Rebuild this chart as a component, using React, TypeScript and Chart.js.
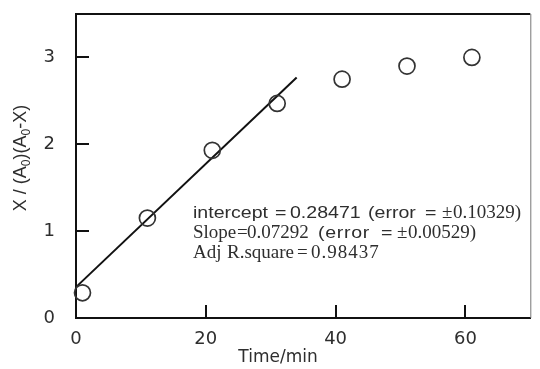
import { useEffect, useRef } from "react";
import { Chart, registerables } from "chart.js";

Chart.register(...registerables);

// Data
const timeMin = [1, 11, 21, 31, 41, 51, 61];
const ratioValues = [0.29, 1.15, 1.93, 2.47, 2.75, 2.9, 3.0];
const fitTime = [0.2, 34];
const fitValues = [0.37, 2.77];
const xTicks = [0, 20, 40, 60];
const yTicks = [0, 1, 2, 3];

const xTitle = "Time/min";
// Y title parts: [text, isSubscript]
const yTitleParts: [string, boolean][] = [
  ["X / (A", false],
  ["0", true],
  [")(A", false],
  ["0", true],
  ["-X)", false],
];
// Annotation pieces: [text, font kind, x, letter spacing]
const fitLine1: [string, string, number, number][] = [
  ["intercept", "sans", 193, 0],
  ["=", "sans", 275, 0],
  ["0.28471", "sans", 290, 0],
  ["(error", "sans", 368, 0],
  ["=", "sans", 425, 0],
  ["\u00b1", "serif", 442, 0],
  ["0.10329)", "serif", 453, 0],
];
const fitLine2: [string, string, number, number][] = [
  ["Slope", "serif", 193, 0],
  ["=", "serif", 237, 0],
  ["0.07292", "serif", 247, 0],
  ["(error", "sans", 318, 0.6],
  ["=", "sans", 381, 0],
  ["\u00b1", "serif", 397, 0],
  ["0.00529)", "serif", 408, 0],
];
const fitLine3: [string, string, number, number][] = [
  ["Adj", "serif", 193, 0],
  ["R.square", "serif", 227, 0],
  ["=", "serif", 297, 0],
  ["0.98437", "serif", 311, 1],
];

const TEXT = "#2e2e2e";
const AXIS = "#111";

const decorPlugin = {
  id: "decor",
  beforeDraw(chart: any) {
    const ctx = chart.ctx;
    ctx.save();
    ctx.fillStyle = "#fff";
    ctx.fillRect(0, 0, chart.width, chart.height);
    ctx.restore();
  },
  afterDraw(chart: any) {
    const ctx = chart.ctx;
    const { left, right, top, bottom } = chart.chartArea;
    const xs = chart.scales.x;
    const ys = chart.scales.y;
    ctx.save();
    // frame top / right
    ctx.strokeStyle = AXIS;
    ctx.lineWidth = 2;
    ctx.beginPath();
    ctx.moveTo(left - 1, top);
    ctx.lineTo(right, top);
    ctx.stroke();
    ctx.strokeStyle = "#777";
    ctx.lineWidth = 1;
    ctx.beginPath();
    ctx.moveTo(right + 0.5, top);
    ctx.lineTo(right + 0.5, bottom);
    ctx.stroke();
    // inward ticks
    ctx.strokeStyle = AXIS;
    ctx.lineWidth = 2;
    const tl = 13;
    xTicks.forEach((v) => {
      if (v === 0) return;
      const px = Math.round(xs.getPixelForValue(v));
      ctx.beginPath();
      ctx.moveTo(px, bottom);
      ctx.lineTo(px, bottom - tl);
      ctx.stroke();
    });
    yTicks.forEach((v) => {
      if (v === 0) return;
      const py = Math.round(ys.getPixelForValue(v));
      ctx.beginPath();
      ctx.moveTo(left, py);
      ctx.lineTo(left + tl, py);
      ctx.stroke();
    });
    // x title
    ctx.fillStyle = TEXT;
    ctx.font = "17px 'DejaVu Sans'";
    ctx.textAlign = "center";
    ctx.textBaseline = "middle";
    ctx.fillText(xTitle, 278, 358);
    // y title with subscripts
    const mainFont = "18px 'Liberation Sans'";
    const subFont = "12px 'Liberation Sans'";
    let total = 0;
    yTitleParts.forEach(([t, sub]) => {
      ctx.font = sub ? subFont : mainFont;
      total += ctx.measureText(t).width;
    });
    ctx.translate(20, (top + bottom) / 2 - 8);
    ctx.rotate(-Math.PI / 2);
    ctx.textAlign = "left";
    ctx.textBaseline = "alphabetic";
    let cx = -total / 2;
    yTitleParts.forEach(([t, sub]) => {
      ctx.font = sub ? subFont : mainFont;
      ctx.fillText(t, cx, sub ? 10 : 6);
      cx += ctx.measureText(t).width;
    });
    ctx.restore();
    // annotation
    const drawLine = (segs: [string, string, number, number][], y: number) => {
      segs.forEach(([t, kind, x, ls]) => {
        ctx.save();
        ctx.fillStyle = TEXT;
        ctx.textAlign = "left";
        ctx.textBaseline = "alphabetic";
        (ctx as any).letterSpacing = ls + "px";
        ctx.translate(x, y);
        if (kind === "sans") {
          ctx.font = "17px 'Liberation Sans'";
          ctx.scale(1.15, 1);
        } else {
          ctx.font = "19px 'Liberation Serif'";
        }
        ctx.fillText(t, 0, 0);
        ctx.restore();
      });
    };
    drawLine(fitLine1, 218);
    drawLine(fitLine2, 238);
    drawLine(fitLine3, 258);
  },
};

export default function App() {
  const ref = useRef<HTMLCanvasElement>(null);
  useEffect(() => {
    document.body.style.margin = "0";
    const chart = new Chart(ref.current!, {
      type: "scatter",
      data: {
        datasets: [
          {
            data: timeMin.map((x, i) => ({ x, y: ratioValues[i] })),
            pointRadius: 8,
            pointBorderWidth: 1.7,
            pointBorderColor: "#333",
            pointBackgroundColor: "rgba(0,0,0,0)",
            showLine: false,
            clip: false,
          } as any,
          {
            data: fitTime.map((x, i) => ({ x, y: fitValues[i] })),
            showLine: true,
            borderColor: "#111",
            borderWidth: 2,
            pointRadius: 0,
            clip: false,
          } as any,
        ],
      },
      options: {
        responsive: false,
        devicePixelRatio: 1,
        animation: false,
        layout: { padding: { top: 14, right: 2, left: 0, bottom: 0 } },
        plugins: { legend: { display: false }, tooltip: { enabled: false } },
        scales: {
          x: {
            type: "linear",
            position: "bottom",
            min: 0,
            max: 70,
            afterBuildTicks: (s: any) => {
              s.ticks = xTicks.map((v) => ({ value: v }));
            },
            afterFit: (s: any) => {
              s.height = 51;
              s.paddingLeft = 0;
              s.paddingRight = 0;
            },
            ticks: {
              font: { family: "'DejaVu Sans'", size: 18 },
              color: TEXT,
              padding: 11,
              maxRotation: 0,
              autoSkip: false,
            },
            grid: { display: false, drawTicks: false },
            border: { display: true, color: AXIS, width: 2 },
          },
          y: {
            type: "linear",
            min: 0,
            max: 3.5,
            afterBuildTicks: (s: any) => {
              s.ticks = yTicks.map((v) => ({ value: v }));
            },
            afterFit: (s: any) => {
              s.width = 76;
              s.paddingTop = 0;
              s.paddingBottom = 0;
            },
            ticks: {
              font: { family: "'DejaVu Sans'", size: 18 },
              color: TEXT,
              padding: 21,
              autoSkip: false,
            },
            grid: { display: false, drawTicks: false },
            border: { display: true, color: AXIS, width: 2 },
          },
        },
      },
      plugins: [decorPlugin],
    } as any);
    return () => chart.destroy();
  }, []);
  return (
    <div style={{ position: "absolute", left: 0, top: 0, width: 540, height: 369, background: "#fff" }}>
      <canvas ref={ref} width={540} height={369} style={{ display: "block", width: 540, height: 369 }} />
    </div>
  );
}
